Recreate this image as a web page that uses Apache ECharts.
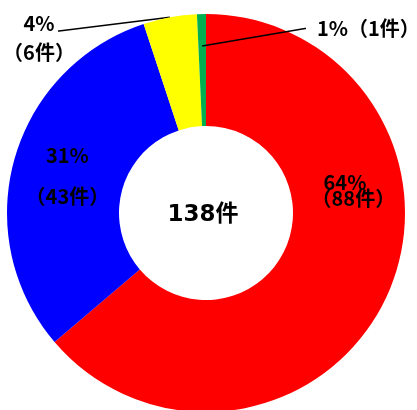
<!DOCTYPE html>
<html>
<head>
<meta charset="utf-8">
<script src="https://cdn.jsdelivr.net/npm/echarts@6/dist/echarts.min.js"></script>
<style>html,body{margin:0;padding:0;background:#fff;}#c{width:417px;height:410px;}</style>
</head>
<body>
<div id="c"></div>
<script>
// ---- data ----
const categories = ['A', 'B', 'C', 'D'];
const counts = [88, 43, 6, 1];
const colors = ['#FF0000', '#0000FF', '#FFFF00', '#00B050'];
const totalLabel = '138件';

// ---- layout/style ----
const cx = 206, cy = 213, R = 199, r0 = 87;
const total = counts.reduce((a, b) => a + b, 0);
const pct = counts.map(v => Math.round(v / total * 100) + '%');
const cnt = counts.map(v => '（' + v + '件）');

function midAngle(i) {
  let s = 0;
  for (let j = 0; j < i; j++) s += counts[j];
  return (s + counts[i] / 2) / total * 2 * Math.PI;
}
function pt(i, r) {
  const a = midAngle(i);
  return [cx + r * Math.sin(a), cy - r * Math.cos(a)];
}

const labelFont = { color: '#000', fontWeight: 'bold', fontSize: 20, fontFamily: 'Noto Sans CJK JP' };
const lineStyle = { color: '#000', width: 1.5 };

// main series: slices + labels (except the smallest one)
const data = categories.map((name, i) => {
  let label;
  if (i === 0) label = Object.assign({
    position: 'inside', lineHeight: 16,
    formatter: '{a|' + pct[i] + '}\n' + cnt[i],
    rich: { a: Object.assign({ padding: [0, 0, 0, 12], lineHeight: 16 }, labelFont) }
  }, labelFont);
  else if (i === 1) label = Object.assign({ position: 'inside', lineHeight: 41, formatter: pct[i] + '\n' + cnt[i] }, labelFont);
  else if (i === 2) label = Object.assign({ position: 'outside', lineHeight: 29, align: 'center', formatter: pct[i] + '\n' + cnt[i] }, labelFont);
  else label = { show: false };
  return {
    name: name,
    value: counts[i],
    itemStyle: { color: colors[i] },
    label: label,
    labelLine: { show: i === 2, lineStyle: lineStyle }
  };
});

// overlay series (transparent slices) so the small slice's leader line is drawn above the big slice
const overlayData = categories.map((name, i) => ({
  name: name,
  value: counts[i],
  itemStyle: { color: 'rgba(0,0,0,0)' },
  label: i === 3 ? Object.assign({ show: true, position: 'outside', formatter: pct[i] + cnt[i] }, labelFont) : { show: false },
  labelLine: { show: i === 3, lineStyle: lineStyle }
}));

const chart = echarts.init(document.getElementById('c'), null, { renderer: 'canvas' });
chart.setOption({
  animation: false,
  backgroundColor: '#fff',
  series: [{
    type: 'pie',
    z: 2,
    center: [cx, cy],
    radius: [r0, R],
    startAngle: 90,
    clockwise: true,
    avoidLabelOverlap: false,
    emphasis: { disabled: true },
    itemStyle: { borderWidth: 0 },
    data: data,
    labelLayout: function (p) {
      const i = p.dataIndex;
      if (i === 0) return { dx: -27, dy: -84, align: 'left' };
      if (i === 1) return { dx: 2, dy: 2 };
      if (i === 2) {
        const a = pt(2, R);
        return { x: 39, y: 38, align: 'center', verticalAlign: 'middle',
                 labelLinePoints: [a, [59, 31], [58, 31]] };
      }
    }
  }, {
    type: 'pie',
    z: 5,
    silent: true,
    center: [cx, cy],
    radius: [r0, R],
    startAngle: 90,
    clockwise: true,
    avoidLabelOverlap: false,
    emphasis: { disabled: true },
    itemStyle: { borderWidth: 0 },
    data: overlayData,
    labelLayout: function (p) {
      if (p.dataIndex === 3) {
        const a = pt(3, R - 32);
        return { x: 317, y: 28, align: 'left', verticalAlign: 'middle',
                 labelLinePoints: [a, [305, 28.5], [306, 28.5]] };
      }
    }
  }],
  graphic: [{
    type: 'text',
    x: 203, y: 215,
    z: 10,
    style: {
      text: totalLabel,
      fill: '#000',
      font: 'bold 23px "DejaVu Sans", "Noto Sans CJK JP"',
      textAlign: 'center',
      textVerticalAlign: 'middle'
    }
  }]
});
</script>
</body>
</html>
